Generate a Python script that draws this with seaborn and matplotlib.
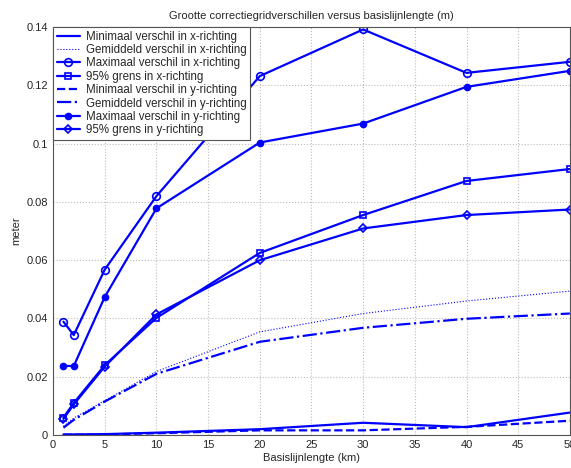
import numpy as np
import pandas as pd
import matplotlib
matplotlib.use("Agg")
import matplotlib.pyplot as plt
import seaborn as sns

sns.set_style("white")
plt.rcParams['font.family'] = ['Liberation Sans', 'DejaVu Sans']

baseline_km = [1, 2, 5, 10, 20, 30, 40, 50]
min_x = [0.0002, 0.0002, 0.0003, 0.0008, 0.0020, 0.0042, 0.0027, 0.0077]
mean_x = [0.0030, 0.0058, 0.0118, 0.0218, 0.0354, 0.0417, 0.0460, 0.0494]
max_x = [0.0389, 0.0343, 0.0568, 0.0820, 0.1232, 0.1392, 0.1243, 0.1281]
p95_x = [0.0060, 0.0110, 0.0240, 0.0402, 0.0625, 0.0755, 0.0872, 0.0913]
min_y = [0.0001, 0.0001, 0.0002, 0.0006, 0.0016, 0.0016, 0.0028, 0.0049]
mean_y = [0.0025, 0.0052, 0.0115, 0.0210, 0.0320, 0.0368, 0.0399, 0.0417]
max_y = [0.0237, 0.0237, 0.0474, 0.0778, 0.1004, 0.1069, 0.1195, 0.1250]
p95_y = [0.0055, 0.0105, 0.0235, 0.0414, 0.0600, 0.0709, 0.0755, 0.0774]

labels = ["Minimaal verschil in x-richting", "Gemiddeld verschil in x-richting",
          "Maximaal verschil in x-richting", "95% grens in x-richting",
          "Minimaal verschil in y-richting", "Gemiddeld verschil in y-richting",
          "Maximaal verschil in y-richting", "95% grens in y-richting"]
series = [min_x, mean_x, max_x, p95_x, min_y, mean_y, max_y, p95_y]

styles = [
    dict(ls='-', lw=1.6, marker=None),
    dict(ls=':', lw=0.8, marker=None),
    dict(ls='-', lw=1.6, marker='o', mfc='none', ms=5.5, mew=1.2),
    dict(ls='-', lw=1.6, marker='s', mfc='none', ms=5, mew=1.2),
    dict(ls='--', lw=1.6, marker=None),
    dict(ls='-.', lw=1.6, marker=None),
    dict(ls='-', lw=1.6, marker='o', mfc='blue', ms=4.5, mew=1.0),
    dict(ls='-', lw=1.6, marker='D', mfc='none', ms=4.5, mew=1.2),
]

fig = plt.figure(figsize=(5.71, 4.68), dpi=100)
ax = fig.add_axes([0.093, 0.0705, 0.905, 0.8715])

for lab, vals, st in zip(labels, series, styles):
    df = pd.DataFrame({"km": baseline_km, "val": vals})
    kw = dict(color='blue', linestyle=st['ls'], linewidth=st['lw'], label=lab)
    if st['marker']:
        kw.update(marker=st['marker'], markerfacecolor=st['mfc'],
                  markeredgecolor='blue', markersize=st['ms'], markeredgewidth=st['mew'])
    sns.lineplot(data=df, x="km", y="val", ax=ax, **kw)

ax.set_xlim(0, 50)
ax.set_ylim(0, 0.14)
ax.set_xticks(np.arange(0, 51, 5))
yt = np.arange(0, 0.1401, 0.02)
ax.set_yticks(yt)
ax.set_yticklabels(["0", "0.02", "0.04", "0.06", "0.08", "0.1", "0.12", "0.14"])
ax.grid(True, color='#bbbbbb', linestyle=':', linewidth=0.8)
ax.tick_params(direction='in', labelsize=8, length=4, color='#555555')
for s in ax.spines.values():
    s.set_color('#555555')
    s.set_linewidth(0.8)
ax.set_xlabel("Basislijnlengte (km)", fontsize=8, labelpad=2)
ax.set_ylabel("meter", fontsize=8, labelpad=4)
ax.set_title("Grootte correctiegridverschillen versus basislijnlengte (m)", fontsize=8, pad=6)

leg = ax.legend(loc='upper left', fontsize=8.3, frameon=True, fancybox=False,
                borderaxespad=0, handlelength=2.0, labelspacing=0.12,
                borderpad=0.3, handletextpad=0.55)
leg.get_frame().set_edgecolor('#555555')
leg.get_frame().set_linewidth(0.8)
leg.get_frame().set_alpha(1)

fig.savefig("out.png", dpi=100)
